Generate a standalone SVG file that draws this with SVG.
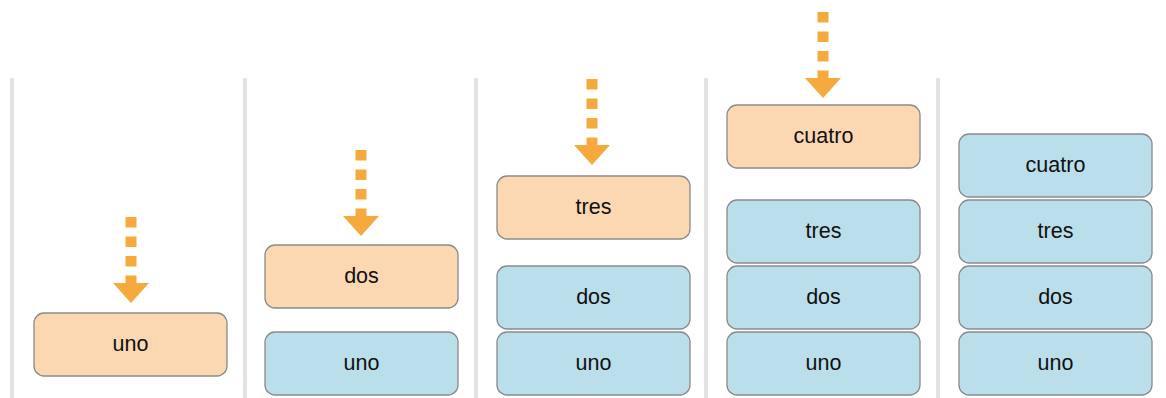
<svg xmlns="http://www.w3.org/2000/svg" width="1166" height="398" viewBox="0 0 1166 398">
<style>
.sep{stroke:#e3e3e3;stroke-width:4}
.new{fill:#fcd8b2;stroke:#8a8a8a;stroke-width:1.3}
.old{fill:#badfea;stroke:#8a8a8a;stroke-width:1.3}
.lbl{font-family:"Liberation Sans",Arial,sans-serif;font-size:21.5px;fill:#111;text-anchor:middle;dominant-baseline:central}
.dash{stroke:#f6a93c;stroke-width:11;stroke-dasharray:10.5 9}
.head{fill:#f6a93c}
</style>
<defs>
<g id="arrow">
<line class="dash" x1="0" y1="0" x2="0" y2="68"/>
<polygon class="head" points="-18,66 18,66 0,86"/>
</g>
</defs>
<g id="separators">
<line class="sep" x1="12" y1="78" x2="12" y2="398"/>
<line class="sep" x1="245" y1="78" x2="245" y2="398"/>
<line class="sep" x1="476" y1="78" x2="476" y2="398"/>
<line class="sep" x1="706" y1="78" x2="706" y2="398"/>
<line class="sep" x1="938" y1="78" x2="938" y2="398"/>
</g>
<g id="connectors">
<use href="#arrow" x="131" y="217"/>
<use href="#arrow" x="361" y="150"/>
<use href="#arrow" x="592" y="79"/>
<use href="#arrow" x="823" y="12"/>
</g>
<g id="c1-uno"><rect class="new" x="34" y="313" width="193" height="63" rx="10"/><text class="lbl" x="130.5" y="344">uno</text></g>
<g id="c2-dos"><rect class="new" x="265" y="245" width="193" height="63" rx="10"/><text class="lbl" x="361.5" y="276">dos</text></g>
<g id="c2-uno"><rect class="old" x="265" y="332" width="193" height="63" rx="10"/><text class="lbl" x="361.5" y="363">uno</text></g>
<g id="c3-tres"><rect class="new" x="497" y="176" width="193" height="63" rx="10"/><text class="lbl" x="593.5" y="207">tres</text></g>
<g id="c3-dos"><rect class="old" x="497" y="266" width="193" height="63" rx="10"/><text class="lbl" x="593.5" y="297">dos</text></g>
<g id="c3-uno"><rect class="old" x="497" y="332" width="193" height="63" rx="10"/><text class="lbl" x="593.5" y="363">uno</text></g>
<g id="c4-cuatro"><rect class="new" x="727" y="105" width="193" height="63" rx="10"/><text class="lbl" x="823.5" y="136">cuatro</text></g>
<g id="c4-tres"><rect class="old" x="727" y="200" width="193" height="63" rx="10"/><text class="lbl" x="823.5" y="231">tres</text></g>
<g id="c4-dos"><rect class="old" x="727" y="266" width="193" height="63" rx="10"/><text class="lbl" x="823.5" y="297">dos</text></g>
<g id="c4-uno"><rect class="old" x="727" y="332" width="193" height="63" rx="10"/><text class="lbl" x="823.5" y="363">uno</text></g>
<g id="c5-cuatro"><rect class="old" x="959" y="134" width="193" height="63" rx="10"/><text class="lbl" x="1055.5" y="165">cuatro</text></g>
<g id="c5-tres"><rect class="old" x="959" y="200" width="193" height="63" rx="10"/><text class="lbl" x="1055.5" y="231">tres</text></g>
<g id="c5-dos"><rect class="old" x="959" y="266" width="193" height="63" rx="10"/><text class="lbl" x="1055.5" y="297">dos</text></g>
<g id="c5-uno"><rect class="old" x="959" y="332" width="193" height="63" rx="10"/><text class="lbl" x="1055.5" y="363">uno</text></g>
</svg>
